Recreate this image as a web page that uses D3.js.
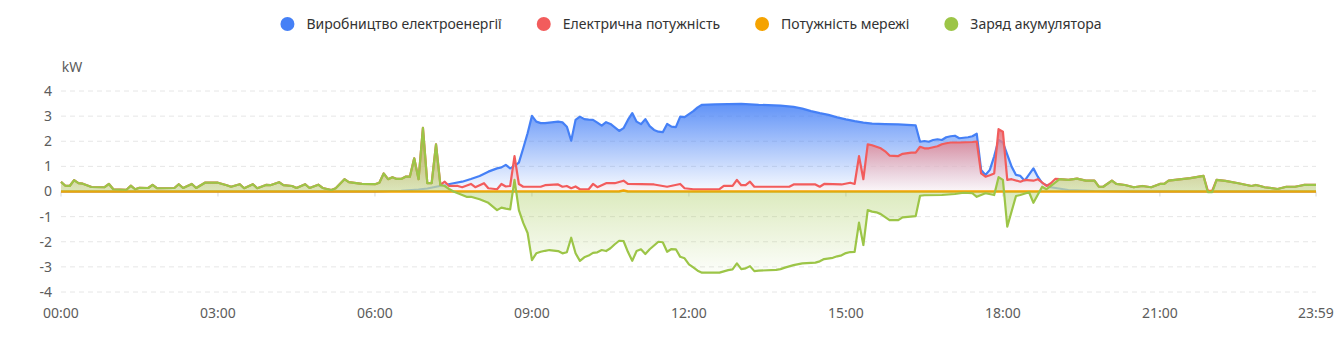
<!DOCTYPE html>
<html>
<head>
<meta charset="utf-8">
<script src="https://cdn.jsdelivr.net/npm/d3@7"></script>
<style>
  body { margin: 0; background: #fff; }
  text { font-family: "Noto Sans", sans-serif; }
</style>
</head>
<body>
<div id="chart-area"></div>
<script>
// legend / series
const seriesNames = ["Виробництво електроенергії", "Електрична потужність", "Потужність мережі", "Заряд акумулятора"];
const seriesColors = ["#4580f6", "#f25c5c", "#f5a300", "#9cc547"];

const xTickTimes = ["00:00", "03:00", "06:00", "09:00", "12:00", "15:00", "18:00", "21:00", "23:59"];
const yTicks = [-4, -3, -2, -1, 0, 1, 2, 3, 4];

// generation (kW)
const genTimes = ["00:00","06:00","06:30","06:50","07:00","07:10","07:20","07:30","07:40","07:50","08:00","08:10","08:20","08:25","08:30","08:35","08:40","08:45","08:50","08:55","09:00","09:05","09:10","09:15","09:20","09:25","09:30","09:35","09:40","09:45","09:50","09:55","10:00","10:05","10:10","10:15","10:20","10:25","10:30","10:35","10:40","10:45","10:50","10:55","11:00","11:05","11:10","11:15","11:20","11:25","11:30","11:35","11:40","11:45","11:50","11:55","12:00","12:05","12:10","12:15","12:30","13:00","13:20","13:45","14:00","14:10","14:20","14:30","14:40","14:50","15:00","15:10","15:20","15:30","15:45","16:00","16:20","16:25","16:30","16:35","16:40","16:45","16:50","16:55","17:00","17:05","17:10","17:15","17:20","17:25","17:30","17:35","17:40","17:45","17:50","17:55","18:00","18:10","18:15","18:20","18:25","18:35","18:40","18:45","18:55","19:15","19:45","20:30","23:59"];
const genValues = [0,0,0.03,0.08,0.12,0.19,0.26,0.33,0.39,0.50,0.62,0.79,0.92,0.96,1.06,0.92,1.02,1.15,1.72,2.32,3.01,2.78,2.72,2.72,2.74,2.76,2.78,2.75,2.58,2.02,2.85,2.98,2.88,2.86,2.85,2.74,2.62,2.76,2.69,2.55,2.41,2.52,2.85,3.12,2.78,2.68,2.88,2.60,2.45,2.38,2.36,2.69,2.58,2.56,2.98,2.96,3.08,3.20,3.35,3.45,3.47,3.49,3.45,3.42,3.37,3.30,3.20,3.12,3.05,2.95,2.87,2.80,2.74,2.70,2.68,2.67,2.63,1.98,2.01,1.98,2.05,2.08,2.05,2.16,2.20,2.22,2.12,2.14,2.16,2.20,2.30,0.86,0.66,0.86,1.40,2.05,1.95,0.99,0.66,0.62,0.43,0.92,0.59,0.33,0.17,0.06,0.02,0,0];

// load (kW)
const loadTimes = ["00:00","00:05","00:10","00:15","00:20","00:25","00:35","00:50","00:55","01:00","01:15","01:20","01:25","01:30","01:40","01:45","01:50","02:10","02:15","02:20","02:30","02:35","02:45","03:00","03:10","03:15","03:25","03:30","03:40","03:45","03:55","04:00","04:10","04:15","04:25","04:30","04:40","04:45","04:55","05:00","05:10","05:15","05:25","05:30","05:45","06:00","06:05","06:10","06:15","06:20","06:25","06:30","06:35","06:40","06:45","06:50","06:55","07:00","07:05","07:10","07:15","07:20","07:25","07:35","07:40","07:50","07:55","08:05","08:10","08:20","08:25","08:30","08:35","08:40","08:45","08:50","09:10","09:15","09:30","09:35","09:40","09:45","09:50","09:55","10:05","10:10","10:15","10:25","10:35","10:45","10:50","11:20","11:35","11:50","11:55","12:05","12:35","12:40","12:50","12:55","13:00","13:05","13:10","13:15","13:55","14:00","14:25","14:30","14:35","14:55","15:05","15:10","15:15","15:20","15:25","15:30","15:35","15:40","15:45","15:50","16:00","16:05","16:15","16:20","16:25","16:30","16:35","16:40","16:45","16:50","16:55","17:00","17:10","17:25","17:30","17:35","17:40","17:45","17:50","17:55","18:00","18:05","18:10","18:20","18:25","18:35","18:40","18:50","18:55","19:00","19:05","19:15","19:25","19:35","19:45","19:50","19:55","20:05","20:10","20:20","20:30","20:40","20:50","21:00","21:05","21:10","21:25","21:35","21:50","21:55","22:00","22:05","22:15","22:30","22:45","22:50","22:55","23:00","23:15","23:25","23:35","23:45","23:59"];
const loadValues = [0.38,0.23,0.22,0.45,0.33,0.31,0.18,0.17,0.30,0.09,0.07,0.23,0.09,0.15,0.14,0.26,0.13,0.14,0.29,0.14,0.30,0.14,0.35,0.35,0.25,0.19,0.29,0.13,0.29,0.13,0.26,0.25,0.37,0.25,0.22,0.14,0.29,0.14,0.27,0.14,0.06,0.13,0.49,0.37,0.30,0.29,0.35,0.72,0.49,0.57,0.50,0.50,0.59,0.59,1.32,0.49,2.53,0.33,0.33,1.88,0.26,0.39,0.22,0.22,0.17,0.30,0.17,0.33,0.13,0.09,0.30,0.20,0.22,1.41,0.30,0.19,0.19,0.25,0.28,0.19,0.22,0.13,0.20,0.09,0.09,0.30,0.17,0.33,0.33,0.43,0.30,0.28,0.19,0.30,0.13,0.09,0.09,0.22,0.22,0.46,0.25,0.25,0.39,0.19,0.19,0.28,0.28,0.19,0.30,0.28,0.35,0.30,1.41,0.49,1.88,1.84,1.78,1.72,1.60,1.43,1.41,1.50,1.55,1.55,1.78,1.72,1.72,1.76,1.80,1.88,1.92,1.95,1.95,1.97,1.99,0.72,0.59,0.65,0.72,2.48,2.38,0.46,0.49,0.39,0.46,0.43,0.49,0.22,0.33,0.50,0.49,0.46,0.51,0.43,0.43,0.19,0.19,0.43,0.30,0.26,0.17,0.22,0.17,0.30,0.30,0.43,0.49,0.53,0.62,0.03,0.03,0.46,0.42,0.33,0.22,0.26,0.22,0.17,0.10,0.19,0.19,0.26,0.26];

// grid (kW)
const gridTimes = ["00:00","10:40","10:45","10:50","23:59"];
const gridValues = [0,0,0.04,0,0];

// battery (kW)
const batTimes = ["00:00","00:05","00:10","00:15","00:20","00:25","00:35","00:50","00:55","01:00","01:15","01:20","01:25","01:30","01:40","01:45","01:50","02:10","02:15","02:20","02:30","02:35","02:45","03:00","03:10","03:15","03:25","03:30","03:40","03:45","03:55","04:00","04:10","04:15","04:25","04:30","04:40","04:45","04:55","05:00","05:10","05:15","05:25","05:30","05:45","06:00","06:05","06:10","06:15","06:20","06:25","06:30","06:35","06:40","06:45","06:50","06:55","07:00","07:05","07:10","07:15","07:20","07:25","07:30","07:35","07:45","07:50","08:00","08:10","08:20","08:25","08:30","08:35","08:40","08:45","08:50","08:55","09:00","09:05","09:10","09:15","09:20","09:25","09:30","09:35","09:40","09:45","09:50","09:55","10:00","10:05","10:10","10:15","10:20","10:25","10:30","10:35","10:40","10:45","10:50","10:55","11:00","11:05","11:10","11:15","11:20","11:25","11:30","11:35","11:40","11:45","11:50","11:55","12:00","12:05","12:10","12:15","12:35","12:40","12:45","12:50","12:55","13:00","13:05","13:10","13:15","13:20","13:40","13:45","13:50","14:00","14:10","14:25","14:30","14:35","14:45","14:50","14:55","15:00","15:05","15:10","15:15","15:20","15:25","15:30","15:35","15:40","15:50","16:00","16:05","16:20","16:25","16:30","16:50","17:05","17:15","17:25","17:30","17:40","17:50","17:55","18:00","18:05","18:15","18:20","18:30","18:35","18:45","18:50","18:55","19:05","19:15","19:25","19:35","19:45","19:50","19:55","20:05","20:10","20:20","20:30","20:40","20:50","21:00","21:05","21:10","21:25","21:35","21:50","21:55","22:00","22:05","22:15","22:30","22:45","22:50","22:55","23:00","23:15","23:25","23:35","23:45","23:59"];
const batValues = [0.38,0.23,0.22,0.45,0.33,0.31,0.18,0.17,0.30,0.09,0.07,0.23,0.09,0.15,0.14,0.26,0.13,0.14,0.29,0.14,0.30,0.14,0.35,0.35,0.25,0.19,0.29,0.13,0.29,0.13,0.26,0.25,0.37,0.25,0.22,0.14,0.29,0.14,0.27,0.14,0.06,0.13,0.49,0.37,0.30,0.29,0.35,0.72,0.49,0.57,0.50,0.50,0.59,0.59,1.32,0.49,2.53,0.33,0.33,1.88,0.26,0.22,0.10,0.00,-0.07,-0.21,-0.21,-0.31,-0.45,-0.74,-0.64,-0.68,-0.71,0.46,-0.74,-1.25,-1.65,-2.73,-2.46,-2.40,-2.36,-2.33,-2.35,-2.37,-2.46,-2.42,-1.84,-2.46,-2.76,-2.62,-2.55,-2.44,-2.42,-2.33,-2.37,-2.26,-2.10,-1.96,-1.97,-2.40,-2.76,-2.37,-2.30,-2.49,-2.30,-2.15,-2.00,-2.02,-2.40,-2.29,-2.30,-2.60,-2.66,-2.90,-3.02,-3.15,-3.23,-3.23,-3.18,-3.13,-3.10,-2.86,-3.09,-3.06,-2.97,-3.17,-3.15,-3.12,-3.09,-3.03,-2.93,-2.86,-2.83,-2.78,-2.69,-2.64,-2.58,-2.54,-2.45,-2.41,-2.40,-1.24,-2.13,-0.74,-0.80,-0.83,-0.90,-1.14,-1.14,-1.03,-0.98,-0.17,-0.15,-0.14,-0.10,-0.05,-0.07,-0.21,-0.07,-0.14,0.57,0.46,-1.40,-0.18,-0.14,-0.03,-0.45,0.19,0.09,0.22,0.49,0.46,0.51,0.43,0.43,0.19,0.19,0.43,0.30,0.26,0.17,0.22,0.17,0.30,0.30,0.43,0.49,0.53,0.62,-0.03,-0.03,0.46,0.42,0.33,0.22,0.26,0.22,0.17,0.10,0.19,0.19,0.26,0.26];

const toMin = s => +s.slice(0, 2) * 60 + +s.slice(3, 5);
const zip = (ts, vs) => ts.map((t, i) => ({ t: toMin(t), v: vs[i] }));

// fill gradient: [top colour, top opacity, bottom colour, bottom opacity]
const series = [
  { name: seriesNames[0], color: seriesColors[0], data: zip(genTimes, genValues), area: ["#4580f6", 0.85, "#4580f6", 0.03] },
  { name: seriesNames[1], color: seriesColors[1], data: zip(loadTimes, loadValues), area: ["#e2626b", 0.85, "#fdf3f4", 0.55] },
  { name: seriesNames[2], color: seriesColors[2], data: zip(gridTimes, gridValues), area: null },
  { name: seriesNames[3], color: seriesColors[3], data: zip(batTimes, batValues), area: ["#9cc547", 0.6, "#9cc547", 0.03] }
];

const width = 1334, height = 356;
let svg = d3.select("#chart-area").append("svg").attr("width", width).attr("height", height);

let x = d3.scaleLinear().domain([0, 1439]).range([61, 1316]);
let y = d3.scaleLinear().domain([-4, 4]).range([292, 91]);

// grid lines
svg.append("g").selectAll("line").data(yTicks.filter(d => d !== 0)).enter()
  .append("line")
    .attr("x1", x(0)).attr("x2", x(1439))
    .attr("y1", d => y(d)).attr("y2", d => y(d))
    .attr("stroke", "#e6e6e6").attr("stroke-dasharray", "5,4");

// y labels
svg.append("g").selectAll("text").data(yTicks).enter()
  .append("text")
    .attr("x", 52).attr("y", d => y(d)).attr("dy", "0.35em")
    .attr("text-anchor", "end").attr("font-size", 14).attr("fill", "#5c5c5c")
    .text(d => d);

svg.append("text").attr("x", 72).attr("y", 67).attr("dy", "0.35em")
  .attr("text-anchor", "middle").attr("font-size", 14).attr("fill", "#5c5c5c").text("kW");

// x labels + ticks
svg.append("g").selectAll("text").data(xTickTimes).enter()
  .append("text")
    .attr("x", d => x(toMin(d))).attr("y", 313).attr("dy", "0.35em")
    .attr("text-anchor", "middle").attr("font-size", 14).attr("fill", "#5c5c5c")
    .text(d => d);

svg.append("g").selectAll("line").data(xTickTimes).enter()
  .append("line")
    .attr("x1", d => x(toMin(d))).attr("x2", d => x(toMin(d)))
    .attr("y1", y(0)).attr("y2", y(0) + 5)
    .attr("stroke", "#d8d8d8");

// gradients
let defs = svg.append("defs");
series.forEach((s, i) => {
  if (!s.area) return;
  let g = defs.append("linearGradient").attr("id", "grad" + i)
    .attr("x1", 0).attr("y1", 0).attr("x2", 0).attr("y2", 1);
  g.append("stop").attr("offset", 0).attr("stop-color", s.area[0]).attr("stop-opacity", s.area[1]);
  g.append("stop").attr("offset", 1).attr("stop-color", s.area[2]).attr("stop-opacity", s.area[3]);
});

let area = d3.area().x(d => x(d.t)).y0(y(0)).y1(d => y(d.v));
let line = d3.line().x(d => x(d.t)).y(d => y(d.v));

series.forEach((s, i) => {
  if (s.area) {
    svg.append("path").datum(s.data).attr("d", area).attr("fill", "url(#grad" + i + ")");
  }
  svg.append("path").datum(s.data).attr("d", line)
    .attr("fill", "none").attr("stroke", s.color).attr("stroke-width", i === 2 ? 2.6 : 2.2)
    .attr("stroke-linejoin", "round");
});

// legend
let legend = svg.append("g");
let items = legend.selectAll("g").data(series).enter().append("g");
items.append("circle").attr("r", 7).attr("cy", 24).attr("fill", d => d.color);
items.append("text").attr("y", 24).attr("dy", "0.35em").attr("font-size", 14).attr("fill", "#333")
  .text(d => d.name);
let widths = [];
items.each(function () { widths.push(d3.select(this).select("text").node().getComputedTextLength()); });
let total = 7 + d3.sum(widths) + widths.length * 19 + (widths.length - 1) * 42;
let pos = 691 - total / 2 + 7;
items.each(function (d, i) {
  let g = d3.select(this);
  g.select("circle").attr("cx", pos);
  g.select("text").attr("x", pos + 19);
  pos += 19 + widths[i] + 42;
});
</script>
</body>
</html>
